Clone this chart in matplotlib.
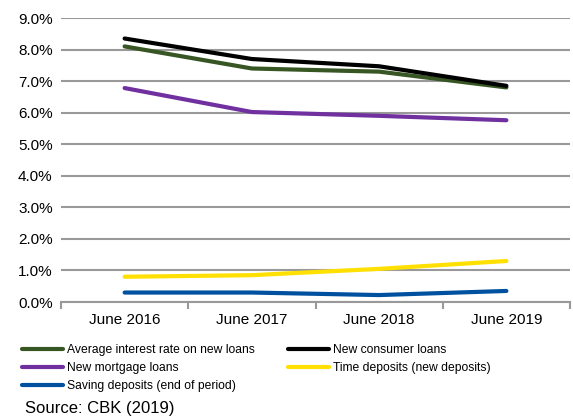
import matplotlib.pyplot as plt
from matplotlib.ticker import FuncFormatter, FixedLocator

plt.rcParams['font.family'] = ['Liberation Sans', 'DejaVu Sans']

years = ['June 2016', 'June 2017', 'June 2018', 'June 2019']
avg_new = [8.1, 7.4, 7.3, 6.8]
consumer = [8.35, 7.7, 7.47, 6.85]
mortgage = [6.78, 6.02, 5.9, 5.76]
time_dep = [0.8, 0.85, 1.05, 1.3]
saving = [0.3, 0.3, 0.22, 0.35]

names = ['Average interest rate on new loans', 'New consumer loans',
         'New mortgage loans', 'Time deposits (new deposits)',
         'Saving deposits (end of period)']
colors = ['#375623', '#000000', '#7030A0', '#FFE000', '#0050A0']
series = [avg_new, consumer, mortgage, time_dep, saving]

fig = plt.figure(figsize=(5.73, 4.18), dpi=100)
ax = fig.add_axes([61/573, 1-302/418, 509/573, 284/418])
x = range(len(years))
lines = []
for s, c, n in zip(series, colors, names):
    ln, = ax.plot(x, s, color=c, lw=3, label=n, solid_capstyle='round')
    lines.append(ln)

ax.set_ylim(0, 9)
ax.set_yticks([i for i in range(10)])
ax.yaxis.set_major_formatter(FuncFormatter(lambda v, p: f'{v:.1f}%'))
ax.set_xlim(-0.5, 3.5)
ax.set_xticks(list(x))
ax.set_xticklabels(years)
ax.xaxis.set_minor_locator(FixedLocator([-0.5, 0.5, 1.5, 2.5, 3.5]))
ax.tick_params(axis='x', which='major', length=0, pad=8, labelsize=11)
ax.tick_params(axis='x', which='minor', length=5, color='#999999', width=1.5)
ax.tick_params(axis='y', length=0, pad=6, labelsize=11)
ax.grid(axis='y', color='#999999', lw=1.5)
ax.set_axisbelow(True)
for sp in ['left', 'right', 'top']:
    ax.spines[sp].set_visible(False)
ax.spines['bottom'].set_color('#999999')
ax.spines['bottom'].set_linewidth(1.5)

# row-wise legend order
order = [0, 2, 4, 1, 3]
fig.legend([lines[i] for i in order], [names[i] for i in order],
           loc='upper left', bbox_to_anchor=(22/573, 1-344/418),
           ncol=2, frameon=False, fontsize=8.7, handlelength=3.4,
           handletextpad=0.35, labelspacing=0.5, columnspacing=2.7,
           borderaxespad=0, borderpad=0)
fig.text(25/573, 1-408/418, 'Source: CBK (2019)', fontsize=12, va='center')

fig.savefig('out.png', dpi=100)
